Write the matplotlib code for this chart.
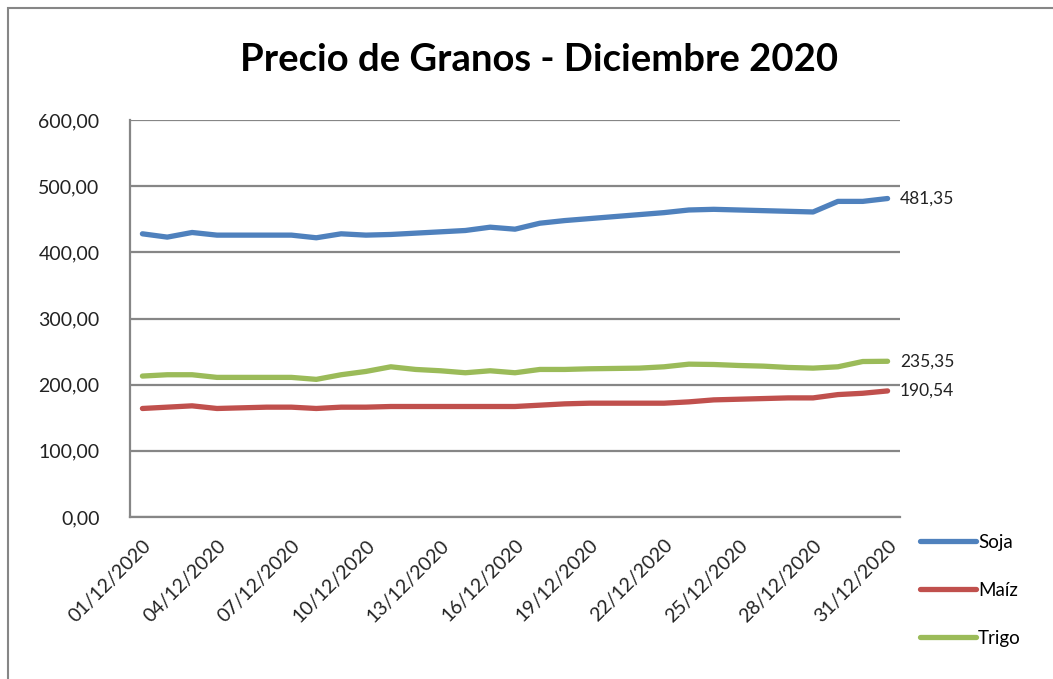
import matplotlib
matplotlib.use("Agg")
import matplotlib.pyplot as plt
from matplotlib.patches import Rectangle

plt.rcParams['font.family'] = ['Lato', 'DejaVu Sans']

days = list(range(1, 32))
date_labels = [f"{d:02d}/12/2020" for d in days]
tick_days = [1, 4, 7, 10, 13, 16, 19, 22, 25, 28, 31]

soja = [428, 423, 430, 426, 426, 426, 426, 422, 428, 426, 427, 429, 431, 433,
        438, 435, 444, 448, 451, 454, 457, 460, 464, 465, 464, 463, 462, 461,
        477, 477, 481.35]
maiz = [164, 166, 168, 164, 165, 166, 166, 164, 166, 166, 167, 167, 167, 167,
        167, 167, 169, 171, 172, 172, 172, 172, 174, 177, 178, 179, 180, 180,
        185, 187, 190.54]
trigo = [213, 215, 215, 211, 211, 211, 211, 208, 215, 220, 227, 223, 221, 218,
         221, 218, 223, 223, 224, 224.5, 225, 227, 231, 230.5, 229, 228, 226, 225,
         227, 235, 235.35]

series = [("Soja", soja, "#4F81BD"), ("Maíz", maiz, "#C0504D"), ("Trigo", trigo, "#9BBB59")]

fig = plt.figure(figsize=(10.53, 6.79), dpi=100)
W, H = 1053, 679
ax = fig.add_axes([130 / W, 1 - 517 / H, (900 - 130) / W, (517 - 120) / H])

# outer chart frame
fig.patches.append(Rectangle((8 / W, -0.1), 1.2, 1 - 8 / H + 0.1, transform=fig.transFigure,
                             fill=False, edgecolor="#868686", linewidth=1.5))

for name, vals, col in series:
    ax.plot(days, vals, color=col, linewidth=3.8, label=name, solid_capstyle="round",
            solid_joinstyle="round")
    ax.annotate(f"{vals[-1]:.2f}".replace(".", ","), xy=(days[-1], vals[-1]),
                xytext=(9, 0), textcoords="offset points", va="center", ha="left",
                fontsize=12.5, color="#222222")

ax.set_xlim(0.5, 31.5)
ax.set_ylim(0, 600)
ax.set_yticks(range(0, 601, 100))
ax.set_yticklabels([f"{v},00" for v in range(0, 601, 100)], fontsize=14, color="#222222")
ax.set_xticks(tick_days)
ax.set_xticklabels([date_labels[d - 1] for d in tick_days], rotation=45, ha="right",
                   rotation_mode="anchor", fontsize=14, color="#222222")
ax.tick_params(axis="both", length=0)
ax.tick_params(axis="y", pad=22)
ax.tick_params(axis="x", pad=14)
ax.grid(axis="y", color="#868686", linewidth=1.6)
ax.set_axisbelow(True)
for s in ["top", "right"]:
    ax.spines[s].set_visible(False)
for s in ["left", "bottom"]:
    ax.spines[s].set_color("#868686")
    ax.spines[s].set_linewidth(1.6)

fig.text(539 / W, 1 - 60 / H, "Precio de Granos - Diciembre 2020", ha="center", va="center",
         fontsize=27.5, fontweight="bold", color="black")

leg = fig.legend(loc="upper left", bbox_to_anchor=(903 / W, 1 - 517 / H), frameon=False,
                 fontsize=13.5, handlelength=3.0, handletextpad=0.1, labelspacing=1.65)

fig.savefig("out.png", dpi=100)
